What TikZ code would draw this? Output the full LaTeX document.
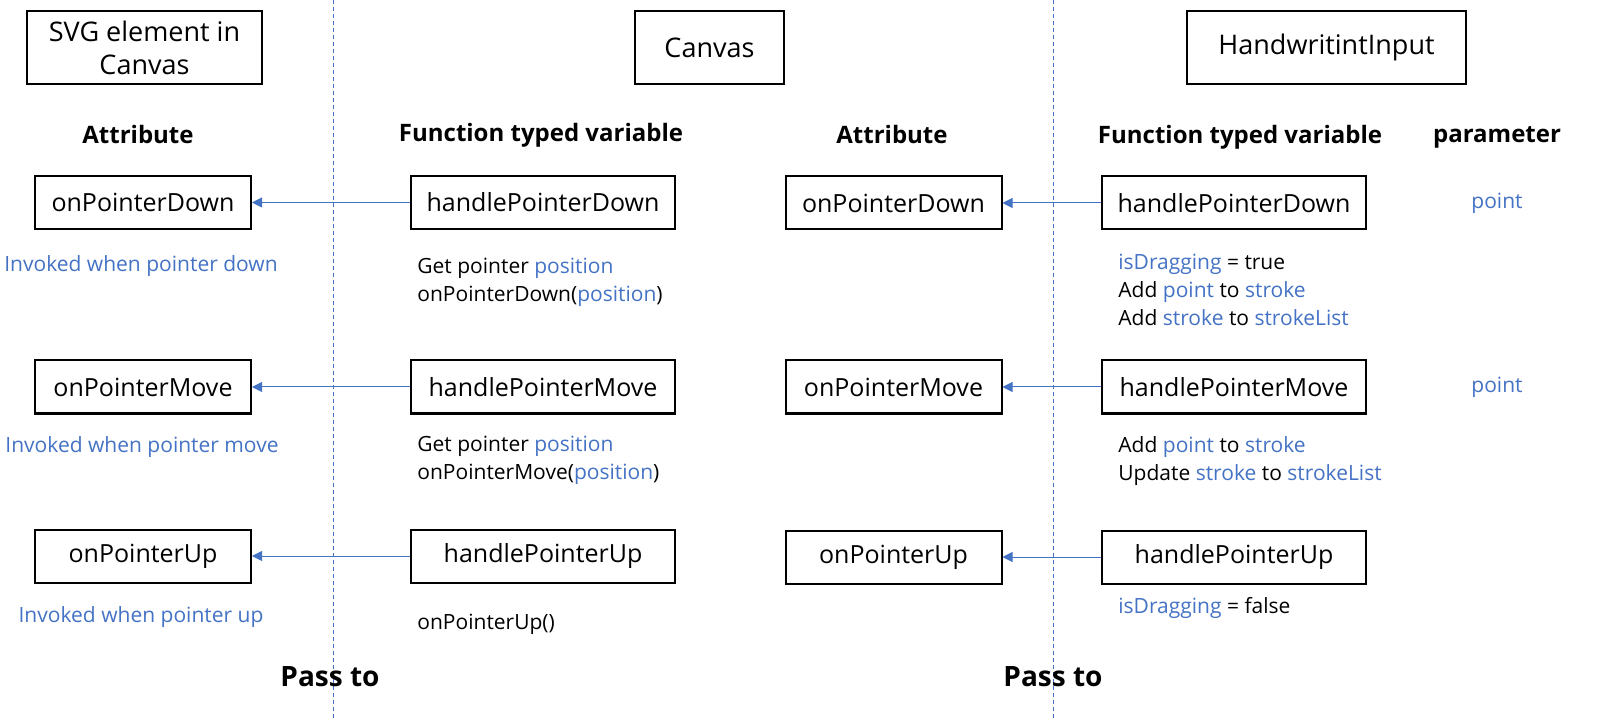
\documentclass[tikz,border=0pt]{standalone}
\usepackage{fontspec}
\setmainfont{Open Sans}
\usetikzlibrary{arrows.meta}
\definecolor{bl}{HTML}{4472C4}
\tikzset{
  box/.style={draw, line width=1pt, inner sep=0pt, font=\fontsize{12.5}{15}\selectfont},
  title/.style={box, line width=1.2pt, minimum height=36.5pt, font=\fontsize{13.5}{16.5}\selectfont},
  attr/.style={box, minimum width=108pt, minimum height=26.5pt},
  hdl/.style={box, minimum width=132pt, minimum height=26.5pt},
  head/.style={font=\fontsize{12}{14}\selectfont\bfseries},
  note/.style={align=left, anchor=north west, inner sep=0pt, font=\fontsize{10.5}{14}\selectfont},
  bnote/.style={text=bl, inner sep=0pt, font=\fontsize{10.5}{14}\selectfont},
  pass/.style={-{Triangle[length=5pt,width=5pt]}, bl, line width=0.5pt},
  sep/.style={bl, line width=0.4pt, dash pattern=on 2pt off 1.5pt}
}
\begin{document}
\begin{tikzpicture}[x=0.5pt,y=-0.5pt]
\useasboundingbox (0,0) rectangle (1616,721);
% separators
\coordinate (s1t) at (333,0); \coordinate (s1b) at (333,721);
\coordinate (s2t) at (1053,0); \coordinate (s2b) at (1053,721);
\draw[sep] (s1t) -- (s1b);
\draw[sep] (s2t) -- (s2b);
% titles
\node[title, minimum width=117.5pt, align=center] (svg) at (144.5,47.5) {SVG element in\\Canvas};
\node[title, minimum width=74.5pt] (cv) at (709.5,47.5) {Canvas};
\node[title, minimum width=139.5pt] (hw) at (1326.5,47.5) {HandwritintInput};
% headers
\node[head] (h1) at (138,135) {Attribute};
\node[head] (h2) at (541,135) {Function typed variable};
\node[head] (h3) at (892,135) {Attribute};
\node[head] (h4) at (1240,137) {Function typed variable};
\node[head] (h5) at (1497,137) {parameter};
% svg element <- canvas
\node[attr] (a1) at (143,202.5) {onPointerDown};
\node[hdl] (f1) at (543,202.5) {handlePointerDown};
\node[attr] (a2) at (143,387) {onPointerMove};
\node[hdl] (f2) at (543,387) {handlePointerMove};
\node[attr] (a3) at (143,556) {onPointerUp};
\node[hdl] (f3) at (543,556) {handlePointerUp};
\draw[pass] (f1) -- (a1);
\draw[pass] (f2) -- (a2);
\draw[pass] (f3) -- (a3);
\node[bnote] (i1) at (141,266) {Invoked when pointer down};
\node[bnote] (i2) at (142,447) {Invoked when pointer move};
\node[bnote] (i3) at (141,617) {Invoked when pointer up};
\node[note] (n1) at (417,258) {Get pointer \textcolor{bl}{position}\\onPointerDown(\textcolor{bl}{position})};
\node[note] (n2) at (417,436) {Get pointer \textcolor{bl}{position}\\onPointerMove(\textcolor{bl}{position})};
\node[note] (n3) at (417,614) {onPointerUp()};
% canvas <- handwriting input
\node[attr] (b1) at (893.5,203) {onPointerDown};
\node[hdl] (g1) at (1234,203) {handlePointerDown};
\node[attr] (b2) at (893.5,387) {onPointerMove};
\node[hdl] (g2) at (1234,387) {handlePointerMove};
\node[attr] (b3) at (893.5,557) {onPointerUp};
\node[hdl] (g3) at (1234,557) {handlePointerUp};
\draw[pass] (g1) -- (b1);
\draw[pass] (g2) -- (b2);
\draw[pass] (g3) -- (b3);
\node[note] (m1) at (1118,254) {\textcolor{bl}{isDragging} = true\\Add \textcolor{bl}{point} to \textcolor{bl}{stroke}\\Add \textcolor{bl}{stroke} to \textcolor{bl}{strokeList}};
\node[note] (m2) at (1118,436) {Add \textcolor{bl}{point} to \textcolor{bl}{stroke}\\Update \textcolor{bl}{stroke} to \textcolor{bl}{strokeList}};
\node[note] (m3) at (1118,597) {\textcolor{bl}{isDragging} = false};
\node[bnote] (p1) at (1497,203) {point};
\node[bnote] (p2) at (1497,387) {point};
% pass to
\node[head, font=\fontsize{14}{16}\selectfont\bfseries] (t1) at (330,677) {Pass to};
\node[head, font=\fontsize{14}{16}\selectfont\bfseries] (t2) at (1053,677) {Pass to};
\end{tikzpicture}
\end{document}
